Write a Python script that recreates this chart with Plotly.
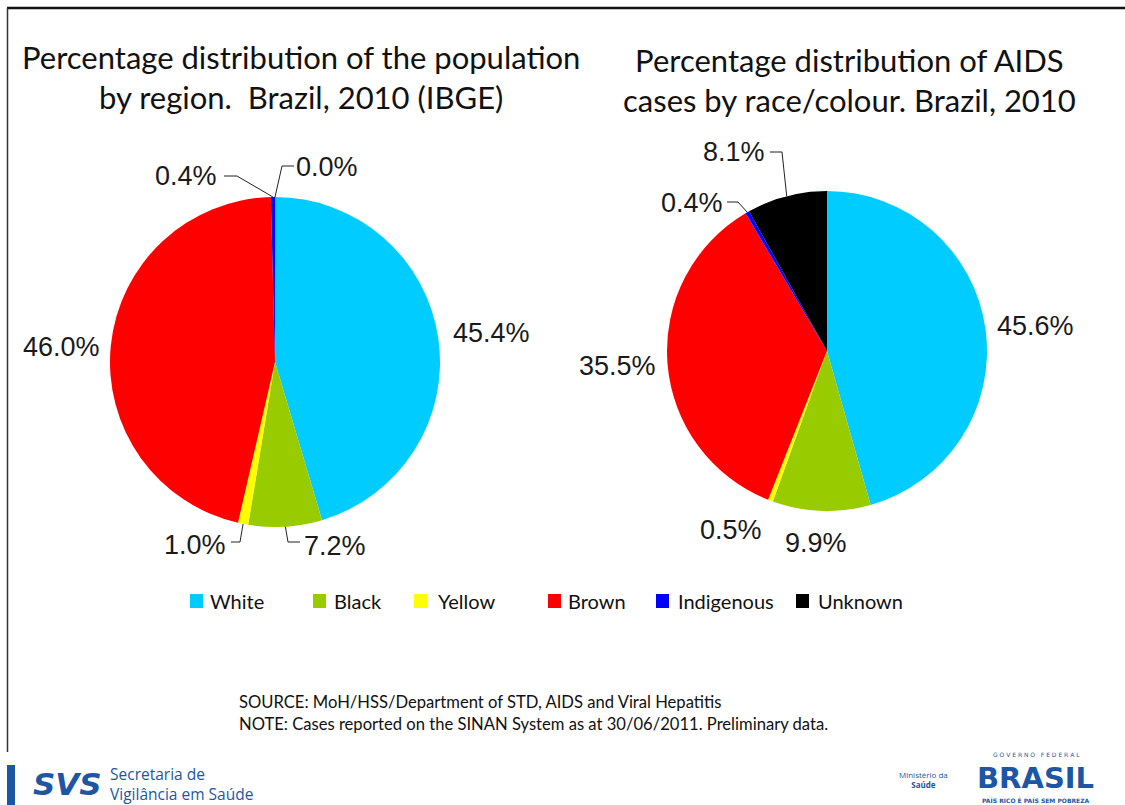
import math
import plotly.graph_objects as go

W, H = 1125, 805

# ---- data -------------------------------------------------------------
categories = ["White", "Black", "Yellow", "Brown", "Indigenous", "Unknown"]
colors = ["#00CCFF", "#99CC00", "#FFFF00", "#FF0000", "#0000FF", "#000000"]
population_pct = [45.4, 7.2, 1.0, 46.0, 0.4, 0.0]
aids_pct = [45.6, 9.9, 0.5, 35.5, 0.4, 8.1]

title_left = ["Percentage distribution of the population",
              "by region.  Brazil, 2010 (IBGE)"]
title_right = ["Percentage distribution of AIDS",
               "cases by race/colour. Brazil, 2010"]
source_lines = ["SOURCE: MoH/HSS/Department of STD, AIDS and Viral Hepatitis",
                "NOTE: Cases reported on the SINAN System as at 30/06/2011. Preliminary data."]


# ---- helpers (pixel -> paper) -----------------------------------------
def px(x):
    return x / W


def py(y):
    return 1 - y / H


TITLE_FONT = dict(family="Lato, 'Open Sans', sans-serif", size=31, color="#111111")
LABEL_FONT = dict(family="'Liberation Sans', Arial, sans-serif", size=27, color="#1a1a1a")
LEG_FONT = dict(family="Lato, sans-serif", size=20, color="#111111")
NOTE_FONT = dict(family="Lato, sans-serif", size=16.6, color="#111111")
BLUE = "#1d56a5"

# pie geometry (centre and radius in pixels) and label layout
pies = [
    dict(values=population_pct, cx=275, cy=362, r=165, title=title_left,
         title_x=301, title_y=77,
         labels={
             "White": ((491, 333), None),
             "Black": ((335, 546), [(300, 542), (288, 542)]),
             "Yellow": ((195, 545), [(231, 542), (240, 542)]),
             "Brown": ((61, 347), None),
             "Indigenous": ((186, 176), [(224, 176), (237, 176)]),
             "Unknown": ((327, 167), [(294, 166), (282, 166)]),
         }),
    dict(values=aids_pct, cx=827, cy=351, r=160, title=title_right,
         title_x=849, title_y=80,
         labels={
             "White": ((1035, 326), None),
             "Black": ((816, 543), None),
             "Yellow": ((731, 530), None),
             "Brown": ((617, 366), None),
             "Indigenous": ((692, 203), [(727, 202), (738, 202)]),
             "Unknown": ((734, 152), [(770, 152), (782, 152)]),
         }),
]

fig = go.Figure()
annotations = []
shapes = []

for p in pies:
    cx, cy, r = p["cx"], p["cy"], p["r"]
    fig.add_trace(go.Pie(
        labels=categories,
        values=p["values"],
        marker=dict(colors=colors, line=dict(width=0)),
        sort=False,
        direction="clockwise",
        rotation=0,
        textinfo="none",
        hoverinfo="label+percent",
        showlegend=False,
        domain=dict(x=[px(cx - r), px(cx + r)], y=[py(cy + r), py(cy - r)]),
    ))

    total = sum(p["values"])
    cum = 0.0
    for cat, v in zip(categories, p["values"]):
        mid = (cum + v / 2) / total
        cum += v
        (lx, ly), leader = p["labels"][cat]
        annotations.append(dict(
            x=px(lx), y=py(ly), xref="paper", yref="paper",
            text=f"{v:.1f}%", showarrow=False, font=LABEL_FONT,
            xanchor="center", yanchor="middle"))
        if leader:
            ang = 2 * math.pi * mid
            edge = (cx + r * math.sin(ang), cy - r * math.cos(ang))
            pts = leader + [edge]
            for (x0, y0), (x1, y1) in zip(pts[:-1], pts[1:]):
                shapes.append(dict(type="line", xref="paper", yref="paper",
                                   x0=px(x0), y0=py(y0), x1=px(x1), y1=py(y1),
                                   line=dict(color="#222222", width=1)))

    annotations.append(dict(
        x=px(p["title_x"]), y=py(p["title_y"]), xref="paper", yref="paper",
        text="<br>".join(p["title"]), showarrow=False, font=TITLE_FONT,
        xanchor="center", yanchor="middle", align="center"))

# ---- legend -------------------------------------------------------------
legend_box_x = [190, 313, 414, 548, 656, 796]
legend_text_x = [208, 332, 436, 566, 676, 816]
for cat, col, bx, tx in zip(categories, colors, legend_box_x, legend_text_x):
    shapes.append(dict(type="rect", xref="paper", yref="paper",
                       x0=px(bx), x1=px(bx + 13), y0=py(608), y1=py(594),
                       fillcolor=col, line=dict(width=0)))
    annotations.append(dict(x=px(tx), y=py(601), xref="paper", yref="paper",
                            text=cat, showarrow=False, font=LEG_FONT,
                            xanchor="left", yanchor="middle"))

# ---- source / note ------------------------------------------------------
annotations.append(dict(x=px(237), y=py(713), xref="paper", yref="paper",
                        text="<br>".join(source_lines), showarrow=False,
                        font=NOTE_FONT, xanchor="left", yanchor="middle",
                        align="left"))

# ---- frame --------------------------------------------------------------
shapes += [
    dict(type="line", xref="paper", yref="paper", x0=px(7), x1=1, y0=py(8), y1=py(8),
         line=dict(color="#111111", width=2.5)),
    dict(type="line", xref="paper", yref="paper", x0=px(7.5), x1=px(7.5), y0=py(8), y1=py(752),
         line=dict(color="#333333", width=1.5)),
    dict(type="rect", xref="paper", yref="paper", x0=px(7), x1=px(15), y0=0, y1=py(765),
         fillcolor=BLUE, line=dict(width=0)),
]

# ---- footer logos (text) -----------------------------------------------
footer = [
    dict(x=px(67), y=py(784), text="<b><i>SVS</i></b>",
         font=dict(family="'DejaVu Sans', sans-serif", size=31, color=BLUE),
         xanchor="center", yanchor="middle"),
    dict(x=px(108), y=py(784), text="Secretaria de<br>Vigilância em Saúde",
         font=dict(family="'Open Sans', sans-serif", size=15.5, color=BLUE),
         xanchor="left", yanchor="middle", align="left"),
    dict(x=px(923), y=py(779), text="Ministério da<br><b>Saúde</b>",
         font=dict(family="'Open Sans', sans-serif", size=8, color=BLUE),
         xanchor="center", yanchor="middle", align="center"),
    dict(x=px(1036), y=py(754), text="G O V E R N O   F E D E R A L",
         font=dict(family="'DejaVu Sans', sans-serif", size=6, color=BLUE),
         xanchor="center", yanchor="middle"),
    dict(x=px(1035), y=py(778), text="<b>BRASIL</b>",
         font=dict(family="'DejaVu Sans', sans-serif", size=29, color=BLUE),
         xanchor="center", yanchor="middle"),
    dict(x=px(1036), y=py(800), text="<b>PAÍS RICO É PAÍS SEM POBREZA</b>",
         font=dict(family="'DejaVu Sans', sans-serif", size=6, color=BLUE),
         xanchor="center", yanchor="middle"),
]
for a in footer:
    a.update(xref="paper", yref="paper", showarrow=False)
annotations += footer

fig.update_layout(
    width=W, height=H,
    margin=dict(l=0, r=0, t=0, b=0),
    paper_bgcolor="white", plot_bgcolor="white",
    annotations=annotations,
    shapes=shapes,
    showlegend=False,
)

fig.write_html("out.html")
